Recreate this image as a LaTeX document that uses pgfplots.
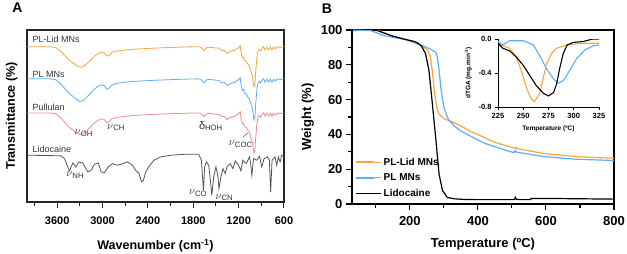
\documentclass[border=0pt]{standalone}
\usepackage{pgfplots}
\pgfplotsset{compat=1.18}
\usepackage{pgfplotstable}
\usepackage{fontspec}
\setmainfont{Liberation Sans}

\definecolor{lidorange}{HTML}{F7A540}
\definecolor{plblue}{HTML}{5AADFF}
\definecolor{pulpink}{HTML}{F28B8B}
\definecolor{lidgray}{HTML}{555555}
\definecolor{txtgray}{HTML}{333333}

% FTIR spectra of the pullulan-based samples (stacked, arbitrary transmittance)
\pgfplotstableread{
wn   O     B     P
4000 90.3  71.6  51.8
3700 90.3  71.6  51.8
3620 89.8  71.1  51.3
3550 87.4  68.5  48.8
3450 82.7  63.4  43.8
3350 79.4  59.8  40.3
3300 78.3  58.4  39.2
3250 78.8  59.1  39.8
3180 81.7  62.3  42.8
3100 85.1  66.0  46.3
3030 87.0  68.0  48.3
2980 86.7  67.7  48.0
2940 84.8  65.6  46.0
2915 85.3  66.1  46.5
2880 87.0  68.0  48.3
2800 87.8  69.1  49.3
2600 88.8  70.1  50.3
2300 89.5  70.8  51.0
2000 90.0  71.3  51.5
1750 90.3  71.6  51.8
1700 90.0  71.3  51.5
1660 88.1  69.2  49.6
1630 89.5  70.8  51.0
1600 90.0  71.3  51.5
1550 89.8  71.1  51.3
1500 89.5  70.8  51.0
1464 89.5  70.8  51.0
1420 88.0  69.2  49.5
1390 88.3  69.6  49.8
1354 86.4  67.6  47.9
1311 87.6  68.8  49.1
1245 88.4  69.7  49.9
1200 89.8  71.1  51.3
1180 90.9  72.2  52.4
1165 86.3  67.4  47.8
1150 83.8  64.8  45.3
1135 84.3  65.4  45.8
1120 82.3  63.3  43.8
1100 81.8  62.8  43.3
1080 80.3  61.2  41.8
1060 79.3  60.2  40.8
1040 76.3  57.4  37.8
1025 74.3  55.4  35.8
1010 71.3  52.4  32.8
997  66.9  47.8  28.4
985  68.3  49.4  29.8
975  75.3  56.6  36.8
960  83.3  64.6  44.8
945  87.8  69.1  49.3
930  88.8  70.1  50.3
910  87.8  69.1  49.3
890  89.5  70.8  51.0
870  90.3  71.6  51.8
850  88.3  69.6  49.8
830  90.0  71.3  51.5
800  88.5  69.8  50.0
780  90.1  71.4  51.6
760  88.3  69.6  49.8
740  90.0  71.3  51.5
710  89.1  70.4  50.6
690  90.3  71.6  51.8
650  89.9  71.2  51.4
600  90.3  71.6  51.8
}\ftirpl

% FTIR spectrum of lidocaine
\pgfplotstableread{
wn   T
4000 27.2
3700 27.0
3547 26.8
3503 25.2
3460 20.4
3438 18.1
3416 20.4
3394 22.7
3350 20.4
3319 23.3
3262 22.7
3196 17.5
3152 18.4
3108 21.9
3055 22.7
3021 17.5
2977 16.9
2925 20.4
2868 22.3
2802 21.4
2736 22.3
2671 23.3
2605 21.4
2561 18.4
2517 16.5
2486 11.7
2460 12.6
2429 17.5
2385 20.8
2320 24.3
2232 26.2
2100 27.2
1881 27.8
1728 27.8
1693 24.3
1665 6.8
1650 20.4
1627 23.3
1596 21.4
1574 12.6
1555 3.9
1530 14.6
1500 20.4
1473 14.6
1460 7.8
1434 14.6
1407 19.4
1377 16.5
1355 20.4
1311 22.3
1276 19.4
1245 23.8
1201 21.4
1170 18.1
1144 24.3
1100 22.3
1056 26.2
1040 22.0
1025 15.5
1003 25.2
960  24.3
925  26.6
894  20.4
863  25.2
820  26.2
793  24.3
777  5.8
758  24.3
718  26.2
696  21.4
674  26.2
652  23.3
630  27.2
600  26.6
}\ftirlid

% TGA weight-loss curves
\pgfplotstableread{
T   W
105 100
144 96.7
193 94.0
232 91.4
252 88.5
260 85.0
266 76.6
272 65.0
276 59.0
281 54.0
286 51.7
300 49.0
321 47.5
349 45.0
380 41.5
399 40.0
448 35.5
500 32.5
508 32.0
512 32.6
516 31.8
594 29.0
691 27.2
800 26.3
}\tgaplid

\pgfplotstableread{
T   W
33  100
86  99.6
125 96.7
193 94.3
237 91.0
261 89.0
276 87.2
281 84.3
286 77.0
291 67.0
296 60.0
300 55.6
308 51.0
315 48.0
330 45.0
349 42.0
369 40.0
418 35.0
496 30.0
506 29.6
510 30.8
514 29.8
594 27.2
691 25.7
800 25.0
}\tgapl

\pgfplotstableread{
T   W
100 100
125 98.2
150 96.5
193 94.3
212 93.5
225 92.3
235 90.5
246 86.5
256 77.0
266 58.0
276 38.0
286 17.0
296 7.7
310 3.8
330 3.0
360 2.6
400 2.5
500 2.5
508 2.6
510 3.8
513 2.8
520 2.5
555 2.5
556 3.2
600 3.2
700 3.0
800 2.8
}\tgalid

% derivative (dTGA) curves
\pgfplotstableread{
T     D
225   -0.05
230   -0.08
236.6 -0.11
243   -0.21
248   -0.37
253   -0.57
258   -0.71
260.8 -0.737
266   -0.65
270   -0.45
273   -0.29
278   -0.17
283   -0.11
293   -0.07
300   -0.06
310   -0.05
325   -0.05
}\dtgaplid

\pgfplotstableread{
T     D
225   -0.03
230   -0.07
236.6 -0.02
250   -0.02
260   -0.07
266   -0.19
273   -0.35
280   -0.47
284.6 -0.52
289.6 -0.49
296   -0.37
302.8 -0.23
311   -0.13
319   -0.08
325   -0.07
}\dtgapl

\pgfplotstableread{
T     D
225   -0.05
230   -0.11
236.6 -0.14
243   -0.21
250   -0.31
256.5 -0.43
263   -0.55
270   -0.64
275   -0.67
280   -0.63
283   -0.53
286   -0.35
289.6 -0.17
293.5 -0.07
299.5 -0.04
309   -0.03
319   0.0
325   0.0
}\dtgalid

\begin{document}
\begin{tikzpicture}
\useasboundingbox (0pt,0pt) rectangle (627pt,254pt);

% panel letters
\node[font=\bfseries\fontsize{14}{14}\selectfont] at (17.5pt,246pt) {A};
\node[font=\bfseries\fontsize{14}{14}\selectfont] at (327pt,245.5pt) {B};

%------------------------------------------------ FTIR
\begin{axis}[
  at={(27pt,52pt)}, anchor=south west, scale only axis,
  width=257pt, height=172pt,
  x dir=reverse, xmin=600, xmax=4000, ymin=0, ymax=100,
  xtick={600,1200,...,3600},
  minor xtick={900,1500,...,3900},
  ytick=\empty, xtick pos=bottom,
  tick align=outside, major tick length=6pt, minor tick length=4pt,
  axis line style={line width=1.1pt, black!85},
  every tick/.style={black!85, line width=1pt},
  xticklabel style={font=\bfseries\fontsize{11}{12}\selectfont,
    /pgf/number format/assume math mode=true, /pgf/number format/1000 sep={}},
  xticklabel shift=5pt,
  label style={font=\bfseries\fontsize{12.5}{14}\selectfont},
  xlabel={Wavenumber (cm\textsuperscript{-1})},
  xlabel shift=8pt,
  ylabel={Transmittance (\%)},
  every axis plot/.append style={line width=0.8pt},
]
\addplot[lidorange] table[x=wn,y=O] {\ftirpl};
\addplot[plblue] table[x=wn,y=B] {\ftirpl};
\addplot[pulpink] table[x=wn,y=P] {\ftirpl};
\addplot[lidgray] table[x=wn,y=T] {\ftirlid};

\begin{scope}[every node/.style={text=txtgray, font=\fontsize{9}{10}\selectfont, anchor=west, inner sep=0pt}]
\node at (axis cs:3929,94.6) {PL-Lid MNs};
\node at (axis cs:3929,74.4) {PL MNs};
\node at (axis cs:3929,55.0) {Pullulan};
\node at (axis cs:3929,30.5) {Lidocaine};
\end{scope}
\begin{scope}[every node/.style={text=txtgray, font=\fontsize{11}{12}\selectfont, anchor=west, inner sep=0pt}]
\node at (axis cs:3372,40.0) {$\nu$\textsubscript{OH}};
\node at (axis cs:2942,43.3) {$\nu$\textsubscript{CH}};
\node at (axis cs:1727,44.1) {δ\textsubscript{HOH}};
\node at (axis cs:1332,33.6) {$\nu$\textsubscript{COC}};
\node at (axis cs:3482,15.5) {$\nu$\textsubscript{NH}};
\node at (axis cs:1859,5.2) {$\nu$\textsubscript{CO}};
\node at (axis cs:1508,2.5) {$\nu$\textsubscript{CN}};
\end{scope}
\draw[txtgray, line width=0.5pt] (axis cs:1144,37.5) -- (axis cs:1082,40.2);
\end{axis}

%------------------------------------------------ TGA
\begin{axis}[
  at={(352pt,50pt)}, anchor=south west, scale only axis,
  width=262pt, height=174pt,
  xmin=30, xmax=800, ymin=0, ymax=100,
  xtick={200,400,...,800},
  minor xtick={100,300,...,700},
  ytick={0,20,...,100},
  minor ytick={10,30,...,90},
  xtick pos=bottom, ytick pos=left,
  tick align=outside, major tick length=6pt, minor tick length=4pt,
  axis line style={line width=1.2pt, black},
  every tick/.style={black, line width=1.1pt},
  ticklabel style={font=\bfseries\fontsize{13}{14}\selectfont,
    /pgf/number format/assume math mode=true},
  xticklabel shift=3pt,
  label style={font=\bfseries\fontsize{13}{14}\selectfont},
  xlabel={Temperature (ºC)},
  xlabel shift=5pt,
  ylabel={Weight (\%)},
  every axis plot/.append style={line width=1.2pt},
  legend cell align=left,
  legend image code/.code={\draw[#1, line width=1.8pt] (0pt,0pt) -- (18pt,0pt);
    \path (0pt,0pt) -- (25pt,0pt);},
  legend style={at={(0,0)}, anchor=south west, xshift=3pt, yshift=4pt,
    draw=none, fill=none, inner sep=0pt,
    font=\bfseries\fontsize{10}{12}\selectfont, row sep=3pt},
]
\addplot[lidorange] table[x=T,y=W] {\tgaplid};
\addplot[plblue] table[x=T,y=W] {\tgapl};
\addplot[black] table[x=T,y=W] {\tgalid};
\legend{PL-Lid MNs, PL MNs, Lidocaine}
\end{axis}

%------------------------------------------------ dTGA inset
\begin{axis}[
  at={(498pt,147pt)}, anchor=south west, scale only axis,
  width=101pt, height=68pt,
  xmin=225, xmax=325, ymin=-0.8, ymax=0,
  axis x line*=bottom, axis y line*=left,
  axis line style={line width=0.9pt, black, -},
  xtick={225,250,...,325},
  ytick={-0.8,-0.4,0}, yticklabels={-0.8,-0.4,0.0},
  xticklabels={225,250,275,300,325},
  tick align=outside, major tick length=3pt,
  every tick/.style={black, line width=0.8pt},
  ticklabel style={font=\bfseries\fontsize{7.5}{8}\selectfont},
  label style={font=\bfseries\fontsize{6.5}{7}\selectfont},
  xlabel={Temperature (ºC)},
  ylabel={dTGA (mg.min\textsuperscript{-1})},
  every axis plot/.append style={line width=1.1pt},
]
\addplot[lidorange] table[x=T,y=D] {\dtgaplid};
\addplot[plblue] table[x=T,y=D] {\dtgapl};
\addplot[black] table[x=T,y=D] {\dtgalid};
\end{axis}
\end{tikzpicture}
\end{document}
